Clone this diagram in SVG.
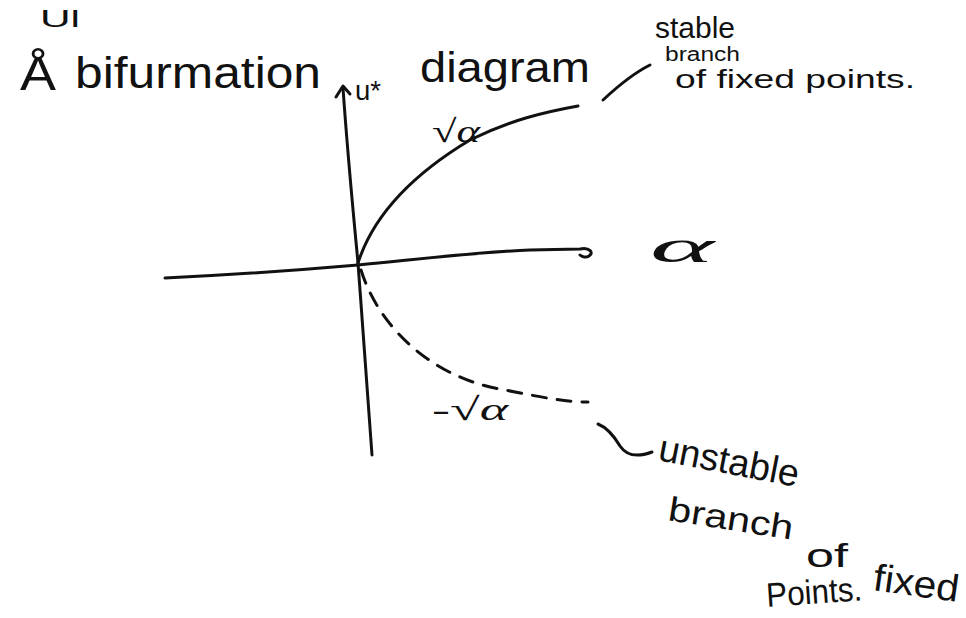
<svg xmlns="http://www.w3.org/2000/svg" width="966" height="618" viewBox="0 0 966 618">
<style>
  .ink { fill: none; stroke: #111; stroke-width: 3; stroke-linecap: round; stroke-linejoin: round; }
  .dash { stroke-dasharray: 14 11; }
  text { font-family: "Liberation Sans", "DejaVu Sans", sans-serif; fill: #111; }
  .greek { font-family: "Liberation Serif", "DejaVu Serif", serif; font-style: italic; }
</style>
<rect width="966" height="618" fill="#fff"/>
<g id="title">
  <text x="40" y="27" font-size="24" textLength="40" lengthAdjust="spacingAndGlyphs">Ul</text>
  <text x="20" y="90" font-size="48" textLength="36" lengthAdjust="spacingAndGlyphs">Å</text>
  <text x="75" y="88" font-size="44" textLength="246" lengthAdjust="spacingAndGlyphs">bifurmation</text>
  <text x="420" y="82" font-size="42" textLength="170" lengthAdjust="spacingAndGlyphs">diagram</text>
</g>
<g id="connectors">
  <path id="u-axis" class="ink" d="M343 88 C348 160 354 220 358 263 C363 330 368 400 372 455"/>
  <path class="ink" d="M336 97 L343 86 L350 94"/>
  <path id="alpha-axis" class="ink" d="M165 278 C250 274 300 270 358 265 C430 258 480 252 530 250 L580 249 C590 247 594 253 589 256 C586 258 582 257 580 255"/>
  <path id="stable-branch" class="ink" d="M358 263 C375 210 420 170 470 140 C510 120 545 112 578 106"/>
  <path id="unstable-branch" class="ink dash" d="M361 270 C378 325 430 378 505 390 C540 397 565 402 588 402"/>
  <path id="stable-pointer" class="ink" d="M603 100 C618 86 632 74 650 65"/>
  <path id="unstable-pointer" class="ink" d="M598 424 C608 428 614 436 620 446 C626 455 636 458 652 452"/>
</g>
<g id="axis-labels">
  <text x="355" y="100" font-size="28" textLength="26" lengthAdjust="spacingAndGlyphs">u*</text>
  <text class="greek" x="650" y="262" font-size="46" textLength="64" lengthAdjust="spacingAndGlyphs">α</text>
</g>
<g id="stable-label">
  <text class="greek" x="432" y="142" font-size="32" textLength="48" lengthAdjust="spacingAndGlyphs">√α</text>
  <text x="655" y="38" font-size="30" textLength="80" lengthAdjust="spacingAndGlyphs">stable</text>
  <text x="665" y="61" font-size="20" textLength="75" lengthAdjust="spacingAndGlyphs">branch</text>
  <text x="675" y="88" font-size="25" textLength="240" lengthAdjust="spacingAndGlyphs">of fixed points.</text>
</g>
<g id="unstable-label">
  <text class="greek" x="432" y="420" font-size="32" textLength="76" lengthAdjust="spacingAndGlyphs">-√α</text>
  <text x="657" y="460" font-size="38" textLength="142" lengthAdjust="spacingAndGlyphs" transform="rotate(11 657 460)">unstable</text>
  <text x="667" y="520" font-size="34" textLength="126" lengthAdjust="spacingAndGlyphs" transform="rotate(9 667 520)">branch</text>
  <text x="806" y="567" font-size="34" textLength="42" lengthAdjust="spacingAndGlyphs">of</text>
  <text x="872" y="590" font-size="38" textLength="86" lengthAdjust="spacingAndGlyphs" transform="rotate(8 872 590)">fixed</text>
  <text x="767" y="607" font-size="34" textLength="96" lengthAdjust="spacingAndGlyphs" transform="rotate(-4 767 607)">Points.</text>
</g>
</svg>
